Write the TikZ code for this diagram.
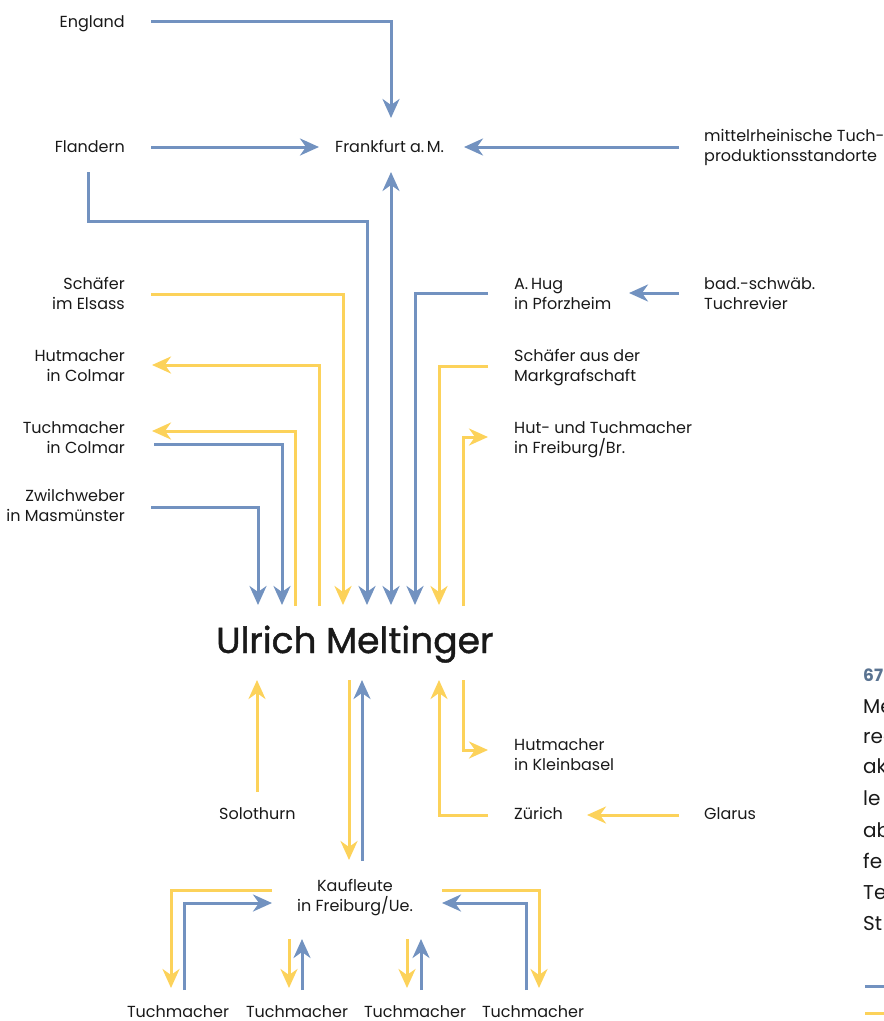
\documentclass[tikz,border=0pt]{standalone}
\usepackage{fontspec}
\setmainfont{Poppins}
\newfontfamily\ulfont{Poppins}[FakeBold=1.2]
\usetikzlibrary{arrows.meta}
\definecolor{bl}{RGB}{114,146,192}
\definecolor{ye}{RGB}{252,210,90}
\definecolor{capc}{RGB}{90,115,145}
\tikzset{
  lbl/.style={inner sep=0pt, font=\fontsize{16}{20}\selectfont, text=black!90},
  lr/.style={lbl, anchor=base east, align=right},
  ll/.style={lbl, anchor=base west, align=left},
  lc/.style={lbl, anchor=base, align=center},
  conn/.style={line width=3pt},
  bline/.style={conn, draw=bl},
  yline/.style={conn, draw=ye},
  tip/.style={-{Stealth[length=19pt,width=17pt,inset=6pt]}},
  tips/.style={{Stealth[length=19pt,width=17pt,inset=6pt]}-{Stealth[length=19pt,width=17pt,inset=6pt]}},
}
\begin{document}
\begin{tikzpicture}[x=1pt,y=1pt]
\useasboundingbox (0,0) rectangle (884,-1021);
\clip (0,0) rectangle (884,-1021);
% labels (for two-line labels the base anchor is the last line)
\node[lr] (england) at (125,-27) {England};
\node[lr] (flandern) at (125,-152) {Flandern};
\node[ll] (frankfurt) at (335,-152) {Frankfurt a.\,M.};
\node[ll] (mittel) at (704,-161) {mittelrheinische Tuch-\\produktionsstandorte};
\node[lr] (schE) at (125,-309) {Schäfer\\im Elsass};
\node[ll] (hug) at (514,-309) {A.\,Hug\\in Pforzheim};
\node[ll] (bad) at (704,-309) {bad.-schwäb.\\Tuchrevier};
\node[lr] (hutC) at (125,-381) {Hutmacher\\in Colmar};
\node[ll] (schM) at (514,-381) {Schäfer aus der\\Markgrafschaft};
\node[lr] (tuchC) at (125,-453) {Tuchmacher\\in Colmar};
\node[ll] (hutF) at (514,-453) {Hut- und Tuchmacher\\in Freiburg/Br.};
\node[lr] (zwil) at (125,-521) {Zwilchweber\\in Masmünster};
\node[lbl, anchor=base west, font=\ulfont\fontsize{36}{40}\selectfont] (ulrich) at (216,-653) {Ulrich Meltinger};
\node[ll] (solo) at (219,-819) {Solothurn};
\node[ll] (hutK) at (514,-770) {Hutmacher\\in Kleinbasel};
\node[ll] (zurich) at (514,-819) {Zürich};
\node[ll] (glarus) at (704,-819) {Glarus};
\node[lc] (kauf) at (355,-911) {Kaufleute\\in Freiburg/Ue.};
\node[lc] (tm1) at (178,-1017) {Tuchmacher};
\node[lc] (tm2) at (297,-1017) {Tuchmacher};
\node[lc] (tm3) at (415,-1017) {Tuchmacher};
\node[lc] (tm4) at (533,-1017) {Tuchmacher};
% caption fragments (cut by the page edge)
\node[lbl, anchor=base west, font=\fontsize{17}{20}\selectfont\bfseries, text=capc] (cnum) at (863,-681) {67};
\foreach \t/\yy [count=\i] in {Me/713,reg/743,ak/773,le/805,ab/837,fe/868,Te/899,St/930}
  \node[lbl, anchor=base west, font=\fontsize{20}{24}\selectfont] (cap\i) at (863,-\yy) {\t};
\coordinate (lgb) at (865,-986);
\coordinate (lgy) at (865,-1013);
\draw[bline] (lgb) -- ++(30,0);
\draw[yline] (lgy) -- ++(30,0);
% --- connectors above
\draw[bline,tip] (151,-21) -- (391,-21) -- (391,-118);
\draw[bline,tip] (151,-147) -- (319,-147);
\draw[bline,tip] (679,-147) -- (464,-147);
\draw[bline,tips] (391,-605) -- (391,-172);
\draw[bline,tip] (88,-172) -- (88,-221) -- (367,-221) -- (367,-605);
\draw[yline,tip] (151,-294) -- (343,-294) -- (343,-605);
\draw[bline,tip] (488,-293) -- (415,-293) -- (415,-605);
\draw[bline,tip] (679,-293) -- (629,-293);
\draw[yline,tip] (319,-606) -- (319,-365) -- (152,-365);
\draw[yline,tip] (488,-366) -- (439,-366) -- (439,-605);
\draw[yline,tip] (295,-606) -- (295,-431) -- (152,-431);
\draw[bline,tip] (154,-444) -- (282,-444) -- (282,-605);
\draw[yline,tip] (463,-606) -- (463,-437) -- (488,-437);
\draw[bline,tip] (151,-507) -- (258,-507) -- (258,-605);
% --- connectors below
\draw[yline,tip] (257,-792) -- (257,-680);
\draw[yline,tip] (349,-680) -- (349,-860);
\draw[bline,tip] (362,-861) -- (362,-680);
\draw[yline,tip] (488,-815) -- (439,-815) -- (439,-680);
\draw[yline,tip] (679,-815) -- (587,-815);
\draw[yline,tip] (463,-680) -- (463,-750) -- (488,-750);
% --- Kaufleute
\draw[yline,tip] (272,-890) -- (171,-890) -- (171,-988);
\draw[bline,tip] (184,-990) -- (184,-903) -- (272,-903);
\draw[yline,tip] (442,-890) -- (539,-890) -- (539,-988);
\draw[bline,tip] (526,-990) -- (526,-903) -- (442,-903);
\draw[yline,tip] (289,-939) -- (289,-988);
\draw[bline,tip] (302,-990) -- (302,-939);
\draw[yline,tip] (407,-939) -- (407,-988);
\draw[bline,tip] (421,-990) -- (421,-939);
\end{tikzpicture}
\end{document}
